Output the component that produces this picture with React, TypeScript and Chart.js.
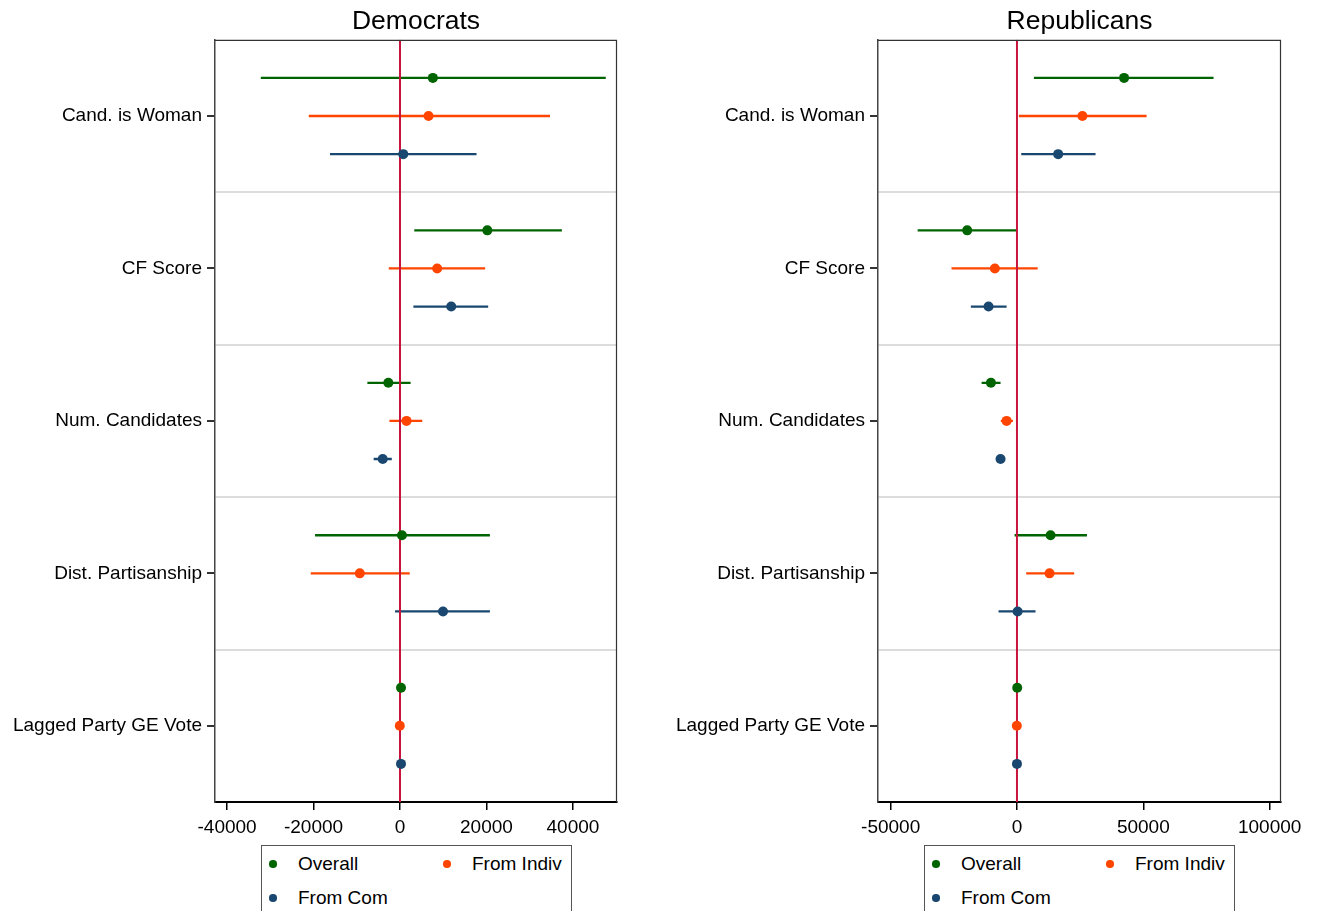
import React, { useEffect, useRef } from "react";
import { Chart, registerables } from "chart.js";

Chart.register(...registerables);

// ---------- data ----------
const categories = [
  "Cand. is Woman",
  "CF Score",
  "Num. Candidates",
  "Dist. Partisanship",
  "Lagged Party GE Vote",
];
const seriesNames = ["Overall", "From Indiv", "From Com"];
const seriesColors = ["#006400", "#ff4500", "#1a476f"];

// Democrats
const demOverall = [7600, 20200, -2700, 450, 230];
const demOverallLo = [-32200, 3300, -7550, -19650, 80];
const demOverallHi = [47600, 37450, 2450, 20800, 380];
const demIndiv = [6600, 8600, 1500, -9300, -50];
const demIndivLo = [-21100, -2600, -2450, -20650, -200];
const demIndivHi = [34700, 19700, 5150, 2250, 100];
const demCom = [750, 11850, -4000, 9950, 230];
const demComLo = [-16200, 3100, -6100, -1150, 80];
const demComHi = [17700, 20400, -1900, 20800, 380];

// Republicans
const repOverall = [42400, -19700, -10300, 13300, 100];
const repOverallLo = [6700, -39300, -14000, -950, -50];
const repOverallHi = [77800, -50, -6500, 27700, 250];
const repIndiv = [25900, -8750, -4100, 12900, -50];
const repIndivLo = [750, -25900, -6400, 3650, -200];
const repIndivHi = [51300, 8200, -1600, 22650, 100];
const repCom = [16300, -11250, -6500, 250, 0];
const repComLo = [1700, -18250, -8050, -7300, -150];
const repComHi = [31100, -4100, -4900, 7350, 150];

const demTicks = [-40000, -20000, 0, 20000, 40000];
const repTicks = [-50000, 0, 50000, 100000];
const demRange = [-42800, 50200];
const repRange = [-55000, 104500];

const rowOffsets = [-0.25, 0, 0.25];

// ---------- chart ----------
const FONT = "'Liberation Sans', Arial, sans-serif";
const refColor = "#c8143c";

type PanelProps = {
  title: string;
  pts: number[][];
  los: number[][];
  his: number[][];
  ticks: number[];
  range: number[];
  axisWidth: number;
  padRight: number;
  width: number;
};

const framePlugin = {
  id: "frame",
  afterDatasetsDraw(chart: any) {
    const { ctx, chartArea: a } = chart;
    ctx.save();
    ctx.strokeStyle = "#333";
    ctx.lineWidth = 1.2;
    ctx.beginPath();
    ctx.moveTo(a.left, a.top + 0.5);
    ctx.lineTo(a.right - 0.5, a.top + 0.5);
    ctx.lineTo(a.right - 0.5, a.bottom);
    ctx.stroke();
    ctx.restore();
  },
};

function Panel(props: PanelProps) {
  const ref = useRef<HTMLCanvasElement | null>(null);
  useEffect(() => {
    if (!ref.current) return;
    const nCat = categories.length;
    const datasets: any[] = [];
    // error bars
    for (let s = 0; s < 3; s++) {
      const data: any[] = [];
      for (let i = 0; i < nCat; i++) {
        const y = i + rowOffsets[s];
        data.push({ x: props.los[s][i], y });
        data.push({ x: props.his[s][i], y });
        data.push({ x: null, y: null });
      }
      datasets.push({
        type: "line",
        label: seriesNames[s] + " CI",
        data,
        showLine: true,
        spanGaps: false,
        borderColor: seriesColors[s],
        borderWidth: 2.3,
        pointRadius: 0,
        order: 3,
      });
    }
    // zero line
    datasets.push({
      type: "line",
      label: "zero",
      data: [
        { x: 0, y: -0.5 },
        { x: 0, y: nCat - 0.5 },
      ],
      showLine: true,
      borderColor: refColor,
      borderWidth: 2,
      pointRadius: 0,
      order: 2,
    });
    // points
    for (let s = 0; s < 3; s++) {
      datasets.push({
        type: "scatter",
        label: seriesNames[s],
        data: props.pts[s].map((v, i) => ({ x: v, y: i + rowOffsets[s] })),
        pointRadius: 5,
        pointBackgroundColor: seriesColors[s],
        pointBorderColor: seriesColors[s],
        pointBorderWidth: 0,
        order: 1,
      });
    }

    const yTickVals: number[] = [];
    for (let i = 0; i < nCat; i++) {
      yTickVals.push(i - 0.5);
      yTickVals.push(i);
    }
    yTickVals.push(nCat - 0.5);

    const chart = new Chart(ref.current, {
      type: "scatter",
      data: { datasets },
      plugins: [framePlugin],
      options: {
        animation: false,
        responsive: false,
        events: [],
        layout: { padding: { left: 0, right: props.padRight, top: 0, bottom: 69 } },
        plugins: {
          legend: { display: false },
          tooltip: { enabled: false },
          title: {
            display: true,
            text: props.title,
            fullSize: false,
            color: "#000",
            font: { family: FONT, size: 26.5, weight: "normal" },
            padding: { top: 6, bottom: 2 },
          },
        },
        scales: {
          x: {
            type: "linear",
            min: props.range[0],
            max: props.range[1],
            afterBuildTicks: (scale: any) => {
              scale.ticks = props.ticks.map((v) => ({ value: v }));
            },
            afterFit: (scale: any) => {
              scale.height = 40;
            },
            ticks: {
              callback: (v: any) => String(v),
              color: "#000",
              padding: 6,
              maxRotation: 0,
              autoSkip: false,
              font: { family: FONT, size: 19 },
            },
            grid: {
              drawOnChartArea: false,
              tickColor: "#000",
              tickLength: 8,
              lineWidth: 1.5,
            },
            border: { display: true, color: "#000", width: 2 },
          },
          y: {
            type: "linear",
            reverse: true,
            min: -0.5,
            max: nCat - 0.5,
            afterBuildTicks: (scale: any) => {
              scale.ticks = yTickVals.map((v) => ({ value: v }));
            },
            afterFit: (scale: any) => {
              scale.width = props.axisWidth;
            },
            ticks: {
              callback: (v: any) =>
                Number.isInteger(v) ? categories[v as number] : "",
              color: "#000",
              padding: 5,
              autoSkip: false,
              font: { family: FONT, size: 19 },
            },
            grid: {
              color: (ctx: any) => {
                const v = ctx.tick ? ctx.tick.value : 0;
                return !Number.isInteger(v) && v > -0.5 && v < nCat - 0.5
                  ? "#dcdcdc"
                  : "rgba(0,0,0,0)";
              },
              tickColor: (ctx: any) => {
                const v = ctx.tick ? ctx.tick.value : 0.5;
                return Number.isInteger(v) ? "#333" : "rgba(0,0,0,0)";
              },
              lineWidth: 2,
              tickLength: 8,
            },
            border: { display: true, color: "#444", width: 1.5 },
          },
        },
      } as any,
    });
    return () => chart.destroy();
  }, []);
  return (
    <canvas
      ref={ref}
      width={props.width}
      height={911}
      style={{ display: "block", width: props.width, height: 911 }}
    />
  );
}

function Legend({ left }: { left: number }) {
  const item = (i: number, x: number, y: number) => (
    <div
      key={i}
      style={{
        position: "absolute",
        left: x,
        top: y - 13,
        height: 26,
        display: "flex",
        alignItems: "center",
      }}
    >
      <span
        style={{
          width: 7.5,
          height: 7.5,
          borderRadius: "50%",
          background: seriesColors[i],
          display: "inline-block",
        }}
      />
      <span
        style={{
          position: "absolute",
          left: 29,
          whiteSpace: "nowrap",
          fontFamily: FONT,
          fontSize: 19,
          color: "#000",
        }}
      >
        {seriesNames[i]}
      </span>
    </div>
  );
  return (
    <div
      style={{
        position: "absolute",
        left,
        top: 845,
        width: 309,
        height: 90,
        border: "1px solid #555",
        background: "#fff",
      }}
    >
      {item(0, 7, 18)}
      {item(1, 181, 18)}
      {item(2, 7, 52)}
    </div>
  );
}

export default function App() {
  return (
    <div
      style={{
        position: "fixed",
        left: 0,
        top: 0,
        width: 1319,
        height: 911,
        overflow: "hidden",
        background: "#fff",
      }}
    >
      <div style={{ position: "absolute", left: 0, top: 0 }}>
        <Panel
          title="Democrats"
          pts={[demOverall, demIndiv, demCom]}
          los={[demOverallLo, demIndivLo, demComLo]}
          his={[demOverallHi, demIndivHi, demComHi]}
          ticks={demTicks}
          range={demRange}
          axisWidth={215}
          padRight={23}
          width={640}
        />
      </div>
      <div style={{ position: "absolute", left: 660, top: 0 }}>
        <Panel
          title="Republicans"
          pts={[repOverall, repIndiv, repCom]}
          los={[repOverallLo, repIndivLo, repComLo]}
          his={[repOverallHi, repIndivHi, repComHi]}
          ticks={repTicks}
          range={repRange}
          axisWidth={218}
          padRight={38}
          width={659}
        />
      </div>
      <Legend left={261} />
      <Legend left={924} />
    </div>
  );
}
